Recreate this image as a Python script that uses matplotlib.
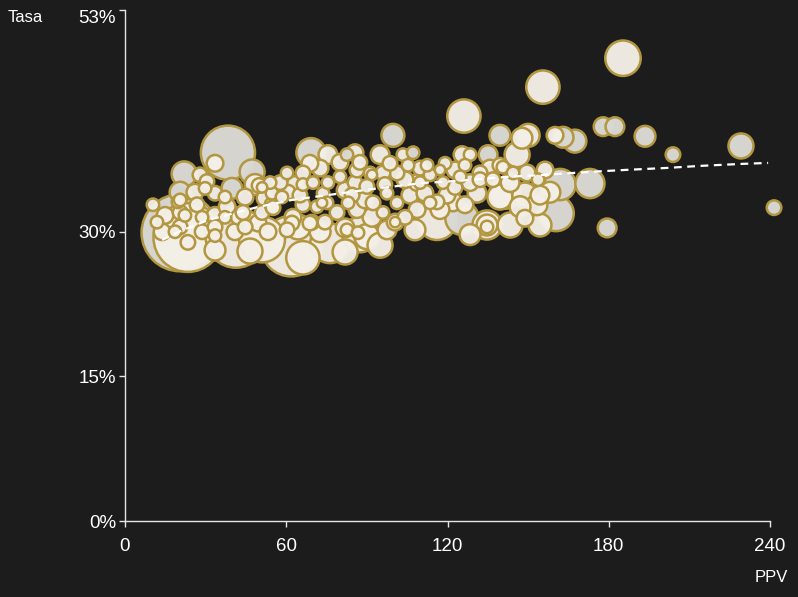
import numpy as np
import matplotlib
matplotlib.use("Agg")
import matplotlib.pyplot as plt

# datos: PPV (x), Tasa en % (y), peso (tamaño de burbuja), grupo
ppv = [20.5, 23.4, 41.3, 38.3, 61.8, 51.0, 76.3, 87.4, 66.2, 185.3, 155.5, 126.1,
       116.1, 125.4, 134.7, 141.4, 160.4, 161.9, 173.0, 229.2, 64.4, 90.0, 139.5,
       69.2, 99.7, 139.5, 147.7, 150.0, 160.0, 163.0, 167.4, 177.9, 182.3, 193.5,
       203.9, 241.5, 179.4, 22.0, 47.3, 145.9, 148.8, 158.1, 135.1, 20.5, 39.8,
       75.5, 82.6, 85.6, 94.9, 103.4, 107.2, 105.3, 119.1, 125.4, 128.4, 139.5,
       140.6, 126.5, 132.1, 149.6, 33.5, 27.9, 30.5, 29.8, 33.5, 19.7, 26.8, 22.3,
       28.7, 33.5, 37.2, 42.1, 37.2, 38.0, 13.8, 18.6, 23.4, 28.7, 33.5, 33.5,
       40.9, 44.7, 49.5, 51.0, 53.2, 54.7, 54.7, 58.4, 60.3, 54.0, 48.4, 49.9,
       51.0, 60.7, 62.1, 43.9, 20.5, 20.5, 20.5, 60.3, 55.1, 62.5, 66.2, 69.6,
       71.4, 66.2, 73.7, 75.5, 85.6, 91.9, 75.2, 78.9, 74.4, 82.6, 86.7, 84.5,
       92.3, 97.5, 101.2, 100.5, 100.5, 106.0, 109.8, 113.5, 119.8, 118.3, 124.7,
       131.0, 132.1, 91.9, 96.0, 80.0, 66.2, 70.0, 91.2, 101.2, 108.7, 113.5,
       117.2, 73.3, 86.3, 104.2, 68.8, 81.9, 97.5, 86.3, 96.0, 112.4, 122.0,
       116.1, 108.7, 83.0, 90.0, 126.5, 136.9, 144.4, 153.7, 153.3, 148.8, 122.8,
       10.4, 11.9, 134.7, 134.7,
       63.3, 72.6, 81.9, 89.3, 96.7, 104.2, 111.6, 117.2, 122.8, 128.4, 135.8,
       143.3, 147.0, 154.4, 156.3, 128.4, 143.3, 154.4, 107.9, 94.9, 81.9, 72.6,
       46.5, 33.5, 14.9, 26.0, 44.7, 52.1, 57.7, 65.1, 68.8, 80.0, 87.4, 98.6,
       109.8]
tasa = [29.9, 29.4, 29.4, 38.2, 28.5, 29.2, 28.8, 29.7, 27.3, 48.0, 45.0, 42.0,
        31.2, 31.4, 30.7, 34.0, 31.9, 34.9, 35.0, 38.9, 30.5, 29.5, 33.6,
        38.2, 40.0, 40.0, 39.7, 40.0, 40.0, 39.8, 39.4, 40.9, 40.9, 39.9,
        38.0, 32.5, 30.4, 36.0, 36.2, 38.0, 33.8, 34.1, 38.0, 34.1, 34.5,
        38.0, 38.0, 38.2, 38.0, 38.0, 38.2, 36.9, 37.1, 38.0, 38.0, 36.9,
        36.7, 36.9, 36.1, 36.1, 37.1, 35.9, 35.2, 34.5, 34.0, 33.1, 32.8, 31.7,
        31.5, 31.7, 31.5, 31.5, 33.6, 32.6, 30.0, 30.0, 28.9, 30.0, 30.5, 29.6,
        30.0, 30.5, 30.9, 32.0, 30.0, 32.8, 34.0, 33.6, 36.1, 35.1, 34.9, 34.8,
        34.6, 34.1, 30.9, 32.0, 30.5, 32.0, 33.3, 30.2, 32.5, 31.5, 32.8, 31.0,
        32.6, 34.9, 34.0, 35.1, 35.1, 35.9, 33.0, 32.0, 31.0, 30.2, 29.9, 33.8,
        33.0, 34.0, 33.0, 31.0, 31.0, 33.8, 35.1, 33.0, 33.8, 35.1, 35.7,
        34.0, 35.4, 31.5, 32.0, 35.7, 36.1, 35.1, 36.1, 36.1, 35.1, 35.9,
        36.4, 33.0, 32.3, 31.5, 30.9, 30.4, 30.2, 36.4, 36.1, 36.9, 33.1,
        33.1, 32.3, 33.0, 34.7, 32.8, 35.4, 36.1, 35.4, 32.8, 31.4, 34.6,
        32.8, 31.0, 30.7, 30.5,
        34.9, 36.6, 34.3, 33.3, 34.9, 35.4, 34.0, 32.3, 36.4, 35.1, 36.6,
        35.1, 32.6, 33.8, 36.4, 29.7, 30.7, 30.7, 30.2, 28.6, 27.9, 30.0,
        28.0, 28.1, 31.7, 34.1, 33.6, 33.5, 35.1, 33.8, 37.1, 37.2, 37.2, 37.1,
        36.6]
peso = [1369, 1089, 841, 676, 841, 484, 361, 289, 256, 289, 256, 256,
        361, 256, 196, 225, 289, 225, 196, 144, 144, 144, 144,
        196, 121, 100, 100, 121, 64, 100, 121, 81, 81, 100,
        49, 49, 81, 144, 144, 144, 144, 100, 81, 100, 100,
        81, 36, 64, 81, 36, 36, 36, 36, 64, 36, 49,
        36, 36, 49, 64, 64, 49, 49, 36, 49, 36, 49, 36,
        36, 64, 36, 49, 36, 64, 64, 36, 49, 49, 49, 36,
        64, 49, 64, 49, 64, 49, 36, 36, 36, 36, 100, 49,
        25, 49, 49, 49, 49, 49, 36, 49, 49, 64, 49, 49,
        36, 36, 36, 36, 49, 25, 36, 49, 49, 36, 36, 49,
        49, 36, 36, 64, 25, 64, 36, 36, 64, 36, 36,
        81, 49, 81, 36, 36, 49, 36, 36, 49, 64, 36,
        25, 25, 64, 49, 49, 81, 81, 49, 49, 36, 81,
        49, 64, 36, 49, 64, 49, 36, 36, 100, 64, 49,
        36, 36, 100, 36,
        64, 64, 64, 64, 49, 64, 64, 81, 64, 64, 64,
        81, 100, 81, 64, 100, 144, 121, 100, 144, 144, 100,
        144, 100, 64, 64, 64, 64, 49, 49, 64, 64, 49, 49,
        49]
grupo = list("gwwgwwwwwwww"
             "wgwwggggwww"
             "gggwwwgggggggg"
             "ggwwwggg"
             "wgwwwg"
             + "w" * 113
             + "w" * 35)

# línea de tendencia
tend_x = [13.8, 20.0, 30.9, 49.5, 62.1, 92.3, 110.9, 123.5, 141.4, 155.2, 172.3,
          186.0, 201.7, 214.0, 228.8, 239.3]
tend_y = [29.15, 30.0, 31.22, 32.57, 33.30, 34.44, 35.06, 35.27, 35.68, 35.89,
          36.20, 36.41, 36.62, 36.83, 37.03, 37.14]

x_ticks = [0, 60, 120, 180, 240]
y_ticks = [0, 15, 30, 53]

BG = "#1c1c1c"
FG = "#e6e6e6"
ORO = "#b29740"
COL = {"w": (0.955, 0.94, 0.91, 0.97), "g": (0.855, 0.85, 0.83, 0.98)}

plt.rcParams["font.family"] = ["Liberation Sans", "DejaVu Sans"]

n = min(len(ppv), len(tasa), len(peso), len(grupo))
x = np.array(ppv[:n])
y = np.array(tasa[:n])
p = np.array(peso[:n], dtype=float)
c = [COL[g] for g in grupo[:n]]
orden = np.argsort(-p, kind="stable")

fig = plt.figure(figsize=(7.98, 5.97), dpi=100, facecolor=BG)
ax = fig.add_axes([125 / 798, 76 / 597, 645 / 798, 511 / 597], facecolor=BG)

ax.scatter(x[orden], y[orden], s=p[orden] * 2.25, c=[c[i] for i in orden],
           edgecolors=ORO, linewidths=1.8, clip_on=False, zorder=2)
ax.plot(tend_x, tend_y, color="white", lw=1.6, dashes=(3.5, 2.5), zorder=3)

ax.set_xlim(0, 240)
ax.set_ylim(0, 53)
ax.set_xticks(x_ticks)
ax.set_xticklabels([str(v) for v in x_ticks])
ax.set_yticks(y_ticks)
ylabs = ax.set_yticklabels([f"{v}%" for v in y_ticks])
ylabs[-1].set_va("top")

for s in ["top", "right"]:
    ax.spines[s].set_visible(False)
for s in ["left", "bottom"]:
    ax.spines[s].set_color(FG)
    ax.spines[s].set_linewidth(1.0)
ax.tick_params(axis="both", colors=FG, labelcolor="white", length=4.5, width=1.0,
               labelsize=13.5)
ax.tick_params(axis="x", pad=8)
ax.tick_params(axis="y", pad=2)

fig.text(8 / 798, 1 - 17 / 597, "Tasa", color="white", fontsize=12, ha="left", va="center")
fig.text(788 / 798, 1 - 578 / 597, "PPV", color="white", fontsize=12, ha="right", va="center")

fig.savefig("out.png", dpi=100, facecolor=BG)
